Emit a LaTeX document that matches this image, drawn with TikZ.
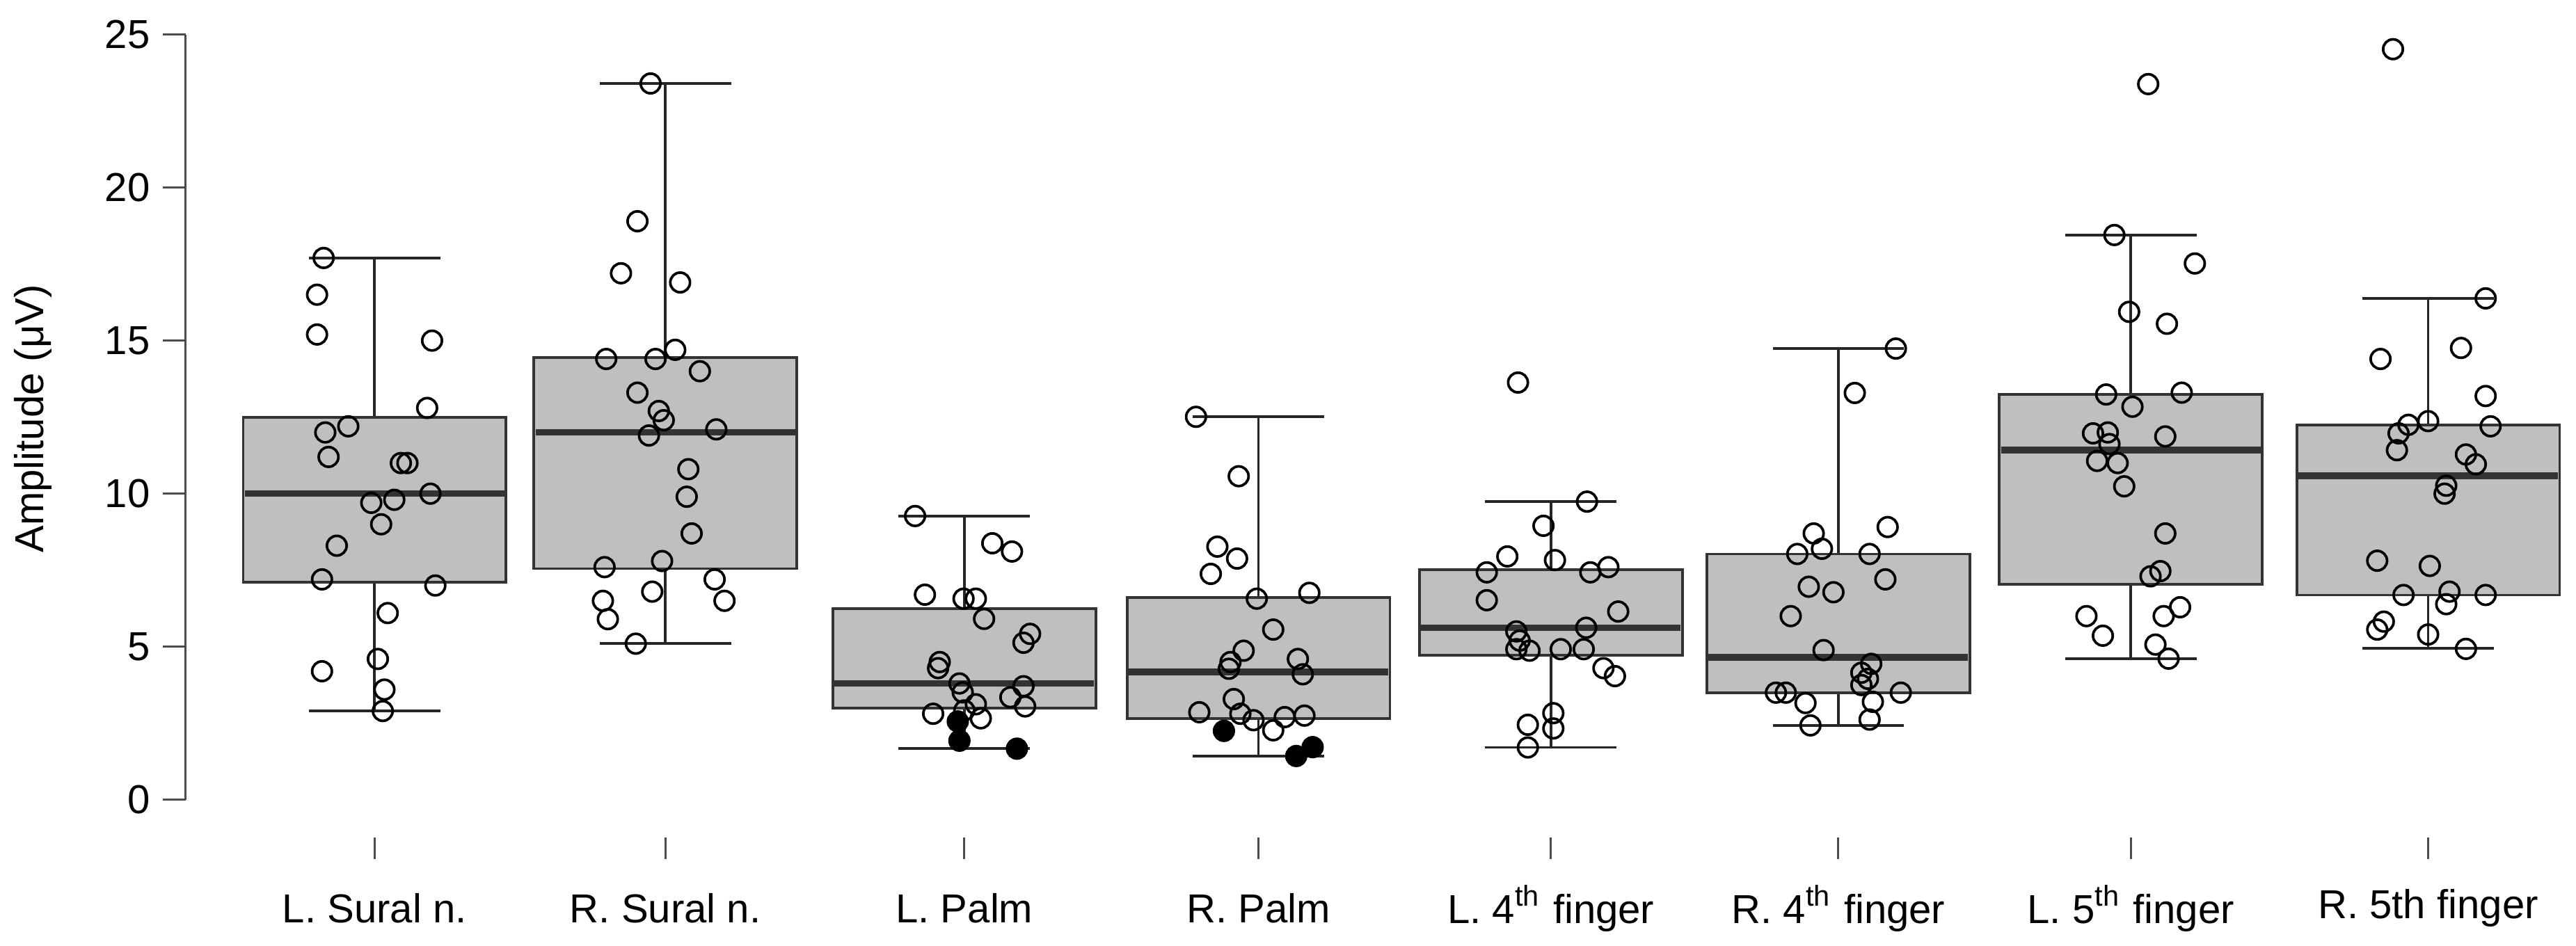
\documentclass[tikz,border=0pt]{standalone}
\usepackage{fontspec}
\setmainfont{Liberation Sans}
\usetikzlibrary{positioning}

\definecolor{boxgray}{HTML}{BFBFBF}
\definecolor{edgegray}{HTML}{333333}

\tikzset{
    box/.style={draw=edgegray, fill=boxgray, line width=0.45pt},
    whisk/.style={draw=black!85, line width=0.45pt},
    med/.style={draw=edgegray, line width=1.15pt},
    obs/.style={draw=black, line width=0.45pt},
    lost/.style={fill=black},
    lab/.style={font=\fontsize{7}{8}\selectfont, inner sep=0pt},
}

% center, low, q1, median, q3, high
\newcommand{\ampbox}[6]{
    \draw[whisk] (#1,#2) -- (#1,#3) (#1,#5) -- (#1,#6);
    \draw[whisk] (#1-40,#2) -- (#1+40,#2) (#1-40,#6) -- (#1+40,#6);
    \draw[box] (#1-80,#3) rectangle (#1+80,#5);
    \draw[med] (#1-79,#4) -- (#1+79,#4);
}

\begin{document}
\begin{tikzpicture}[x=0.1mm, y=1.864mm]
    \useasboundingbox (0,-4.775) rectangle (1568,26.127);

    % y axis
    \draw[black!70, line width=0.35pt] (113,0) -- (113,25);
    \foreach \v in {0,5,...,25}{
        \draw[black!70, line width=0.35pt] (113,\v) -- (99,\v);
        \node[lab, anchor=east] (tick\v) at (92,\v) {\v};
    }
    \node[lab, rotate=90] (ylab) at (20,12.45) {Amplitude (μV)};

    % boxes
    \ampbox{228}{2.9}{7.1}{10.0}{12.5}{17.7}
    \ampbox{405}{5.1}{7.55}{12.0}{14.45}{23.4}
    \ampbox{587}{1.67}{3.0}{3.8}{6.25}{9.27}
    \ampbox{766}{1.43}{2.66}{4.18}{6.61}{12.51}
    \ampbox{944}{1.71}{4.73}{5.62}{7.52}{9.74}
    \ampbox{1119}{2.43}{3.49}{4.65}{8.03}{14.74}
    \ampbox{1297}{4.61}{7.04}{11.42}{13.24}{18.45}
    \ampbox{1478}{4.95}{6.69}{10.59}{12.25}{16.38}

    % observations
    \foreach \px/\py in {197/17.7,193/16.5,193/15.2,263/15.0,260/12.8,198/12.0,212/12.2,200/11.2,244/11.0,248/11.0,226/9.7,240/9.8,262/10.0,232/9.0,205/8.3,196/7.2,265/7.0,236/6.1,230/4.6,196/4.2,234/3.6,233/2.9,
        396/23.4,388/18.9,378/17.2,414/16.9,369/14.4,399/14.4,411/14.7,426/14.0,388/13.3,401/12.7,404/12.4,395/11.9,436/12.1,419/10.8,418/9.9,421/8.7,368/7.6,403/7.8,435/7.2,367/6.5,397/6.8,441/6.5,370/5.9,387/5.1,
        557/9.27,604/8.38,616/8.11,563/6.70,586.5/6.57,594/6.57,599/5.91,627/5.42,623/5.13,572/4.50,571/4.30,584/3.80,586/3.51,623/3.71,615/3.35,594/3.12,587/2.92,624/3.05,568/2.81,597/2.66,
        728/12.51,754/10.57,741/8.27,753/7.88,737/7.38,765/6.57,797/6.76,775/5.56,757/4.87,749/4.50,748/4.28,790/4.6,793/4.10,751/3.29,730/2.86,755/2.81,763/2.6,782/2.7,794/2.75,775/2.27,
        924/13.63,966/9.74,939.5/8.95,917.5/7.95,946.5/7.83,905/7.43,968/7.43,979/7.6,905/6.52,985/6.15,965.5/5.62,923/5.5,925/5.2,923/4.92,931/4.87,950/4.92,964/4.92,976/4.3,983/4.04,945.5/2.83,945.5/2.33,930/2.45,930/1.71,
        1154/14.74,1129/13.29,1104/8.7,1149/8.91,1094/8.03,1109/8.2,1138/8.03,1101/6.96,1116/6.78,1147.6/7.2,1090/6.0,1110/4.89,1139/4.44,1133/4.15,1137/3.95,1133/3.75,1081/3.5,1087/3.5,1157/3.5,1099/3.16,1140/3.2,1138/2.62,1102/2.43,
        1307.6/23.38,1287/18.45,1336/17.52,1296/15.94,1319/15.55,1282/13.24,1328/13.3,1298/12.84,1274/11.97,1283/12.0,1284/11.62,1318/11.87,1276.5/11.07,1289/11.0,1293/10.24,1318/8.70,1315/7.47,1309/7.3,1270/6.0,1280/5.36,1327/6.29,1317/6.0,1312/5.07,1320/4.61,
        1456.6/24.52,1513/16.38,1498/14.76,1449/14.4,1513/13.19,1466/12.25,1478/12.37,1460/11.97,1516/12.2,1459/11.42,1501/11.28,1507/10.96,1489/10.26,1488/10.0,1447/7.81,1479/7.64,1463/6.69,1491/6.8,1513/6.69,1489/6.39,1451/5.82,1447/5.56,1478/5.4,1501/4.93}
        \draw[obs] (\px,\py) circle[radius=0.6mm];

    % filled observations
    \foreach \px/\py in {583/2.56,584/1.93,619/1.67,745/2.25,789/1.43,799/1.72}
        \draw[obs, lost] (\px,\py) circle[radius=0.6mm];

    % x ticks and group labels
    \foreach \cx/\name [count=\i] in {228/L. Sural n.,405/R. Sural n.,587/L. Palm,766/R. Palm,
        944/L. 4\textsuperscript{th} finger,1119/R. 4\textsuperscript{th} finger,
        1297/L. 5\textsuperscript{th} finger,1478/R. 5th finger}{
        \draw[black!70, line width=0.35pt] (\cx,-1.23) -- (\cx,-1.93);
        \node[lab] (grp\i) at (\cx,-3.54) {\name};
    }
\end{tikzpicture}
\end{document}
